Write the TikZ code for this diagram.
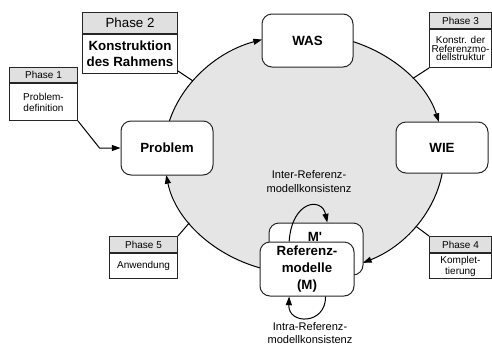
\documentclass[tikz,border=0pt]{standalone}
\usepackage{fontspec}
\setmainfont{Liberation Sans}
\usetikzlibrary{arrows.meta}
\begin{document}
\begin{tikzpicture}[x=0.75pt,y=0.75pt,
  line width=0.75pt,
  arr/.style={-{Triangle[length=6.5pt,width=4.5pt]}},
  rbox/.style={draw=black!85, fill=white, rounded corners=7.5pt, font=\bfseries\fontsize{10}{13}\selectfont, align=center, inner sep=0pt},
  phh/.style={draw=black!85, fill=black!12, inner sep=0pt, align=center},
  phb/.style={draw=black!85, fill=white, inner sep=0pt, align=center, anchor=north},
  small/.style={font=\fontsize{7.5}{8.2}\selectfont},
  lbl/.style={font=\fontsize{8.3}{10}\selectfont, align=center, inner sep=0pt}
]
\useasboundingbox (0,0) rectangle (492,-347);
\coordinate (C) at (304,-154);
\fill[black!10] (C) ellipse [x radius=140, y radius=120];

% arcs of the cycle
\draw[arr] ([shift={(164:140 and 120)}]C) arc[start angle=164, end angle=107.46, x radius=140, y radius=120];
\draw[arr] ([shift={(69.5:140 and 120)}]C) arc[start angle=69.5, end angle=15.47, x radius=140, y radius=120];
\draw[arr] ([shift={(-9.1:140 and 120)}]C) arc[start angle=-9.1, end angle=-65.1, x radius=140, y radius=120];
\draw[arr] ([shift={(-108.3:140 and 120)}]C) arc[start angle=-108.3, end angle=-169.9, x radius=140, y radius=120];

% main nodes
\node[rbox, minimum width=69pt, minimum height=40.5pt] (prob) at (167,-148) {Problem};
\node[rbox, minimum width=68.25pt, minimum height=39.75pt] (was) at (307.5,-40.5) {WAS};
\node[rbox, minimum width=69pt, minimum height=38.25pt] (wie) at (442,-147.5) {WIE};
\node[rbox, minimum width=70.5pt, minimum height=39pt] (mp) at (316,-249) {};
\node[font=\bfseries\fontsize{10}{13}\selectfont, inner sep=0pt] (mptext) at (315,-236.5) {M\textquotesingle};
\node[rbox, minimum width=70.5pt, minimum height=40.5pt] (m) at (307,-269) {Referenz-\\modelle\\(M)};

% loops
\draw[arr] (m.123.7) .. controls (292,-200) and (322,-197) .. (mp.67);
\draw[arr] (m.-56.3) .. controls (326,-325) and (288,-325) .. (m.-123.7);
\node[lbl] (inter) at (309,-181.5) {Inter-Referenz-\\modellkonsistenz};
\node[lbl] (intra) at (310,-333) {Intra-Referenz-\\modellkonsistenz};

% phase boxes
\node[phh, small, anchor=north west, minimum width=51pt, minimum height=11.25pt] (p1h) at (9,-67) {Phase 1};
\node[phb, small, minimum width=51pt, minimum height=27.75pt] (p1b) at (p1h.south) {Problem-\\definition};

\node[phh, font=\fontsize{10}{12}\selectfont, anchor=north west, minimum width=71.25pt, minimum height=15.75pt] (p2h) at (82,-12) {Phase 2};
\node[phb, font=\bfseries\fontsize{10}{12}\selectfont, minimum width=71.25pt, minimum height=29.25pt] (p2b) at (p2h.south) {Konstruktion\\des Rahmens};

\node[phh, small, anchor=north west, minimum width=46.5pt, minimum height=12pt] (p3h) at (429,-12) {Phase 3};
\node[phb, font=\fontsize{7.5}{6.6}\selectfont, minimum width=46.5pt, minimum height=28.5pt] (p3b) at (p3h.south) {Konstr. der\\Referenzmo-\\dellstruktur};

\node[phh, small, anchor=north west, minimum width=46.5pt, minimum height=12pt] (p4h) at (429,-236) {Phase 4};
\node[phb, small, minimum width=46.5pt, minimum height=18.75pt] (p4b) at (p4h.south) {Komplet-\\tierung};

\node[phh, small, anchor=north west, minimum width=51pt, minimum height=12pt] (p5h) at (109,-236) {Phase 5};
\node[phb, small, minimum width=51pt, minimum height=18.75pt] (p5b) at (p5h.south) {Anwendung};

% phase connectors
\draw[arr] (p1b.south east) -- ([xshift=-15.75pt]prob.west) -- (prob.west);
\draw ([yshift=2.25pt]p2b.south east) -- ([shift={(142.5:140 and 120)}]C);
\draw (p3b.south west) -- ([shift={(39:140 and 120)}]C);
\draw (p4h.north west) -- ([shift={(-37:140 and 120)}]C);
\draw (p5h.north east) -- ([shift={(-145:140 and 120)}]C);
\end{tikzpicture}
\end{document}
